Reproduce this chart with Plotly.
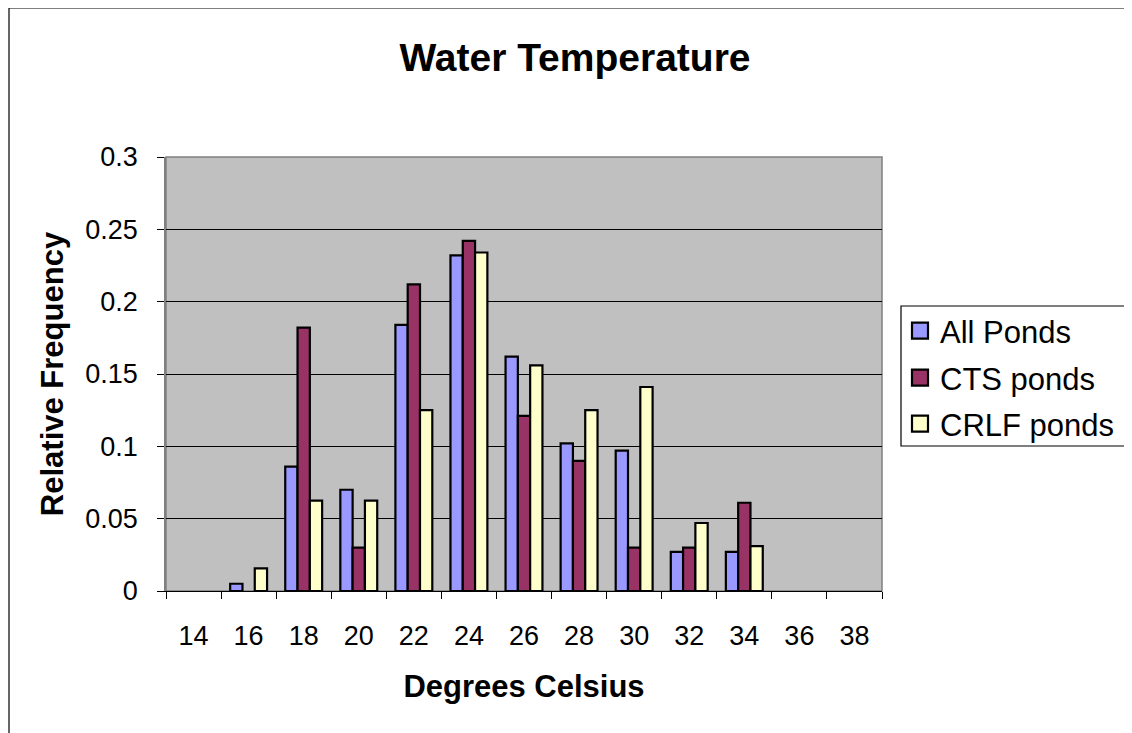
import plotly.graph_objects as go

temps = ["14", "16", "18", "20", "22", "24", "26", "28", "30", "32", "34", "36", "38"]
# None where the reference draws no bar
all_ponds = [None, 0.005, 0.086, 0.070, 0.184, 0.232, 0.162, 0.102, 0.097, 0.027, 0.027, None, None]
cts_ponds = [None, None, 0.182, 0.030, 0.212, 0.242, 0.121, 0.090, 0.030, 0.030, 0.061, None, None]
crlf_ponds = [None, 0.0156, 0.0625, 0.0625, 0.125, 0.234, 0.156, 0.125, 0.141, 0.047, 0.031, None, None]

names = ["All Ponds", "CTS ponds", "CRLF ponds"]
colors = ["#9999FF", "#993366", "#FFFFCC"]
values = [all_ponds, cts_ponds, crlf_ponds]

# page body has an 8px margin, so figure coords = screen coords - 8
OFF = 8
W, H = 1132 - OFF, 733 - OFF
PX0, PX1, PY0, PY1 = 166, 882, 157, 591  # plot area on screen
pw, ph = PX1 - PX0, PY1 - PY0


def px(sx):
    return (sx - PX0) / pw


def py(sy):
    return (PY1 - sy) / ph


fig = go.Figure()
legends = ["legend", "legend2", "legend3"]
for name, vals, col, lg in zip(names, values, colors, legends):
    fig.add_trace(go.Bar(
        x=temps, y=vals, name=name, showlegend=False,
        marker=dict(color=col, line=dict(color="black", width=2.2)),
    ))
    # legend entry with a bigger outlined square
    fig.add_trace(go.Scatter(
        x=[None], y=[None], name=name, legend=lg, mode="markers",
        marker=dict(symbol="square", size=18, color=col,
                    line=dict(color="black", width=2.2)),
    ))

leg_style = dict(xanchor="left", yanchor="middle", bgcolor="rgba(0,0,0,0)",
                 borderwidth=0, font=dict(size=31), itemsizing="trace")
fig.update_layout(
    width=W, height=H,
    margin=dict(l=PX0 - OFF, r=W - (PX1 - OFF), t=PY0 - OFF, b=H - (PY1 - OFF)),
    barmode="group", bargap=0.33, bargroupgap=0,
    plot_bgcolor="#C0C0C0", paper_bgcolor="white",
    font=dict(family="Liberation Sans, Arial", size=27, color="black"),
    title=dict(text="<b>Water Temperature</b>", x=px(575), xref="paper",
               xanchor="center", y=1 - (57 - OFF) / H, yanchor="middle",
               font=dict(size=39)),
    legend=dict(x=px(900), y=py(331), **leg_style),
    legend2=dict(x=px(900), y=py(378), **leg_style),
    legend3=dict(x=px(900), y=py(424), **leg_style),
    showlegend=True,
)
fig.update_xaxes(
    showgrid=False, tickson="boundaries", ticks="outside", ticklen=7,
    tickcolor="black", showline=True, linecolor="black", linewidth=1,
    ticklabelstandoff=21,
    title=dict(text="<b>Degrees Celsius</b>", standoff=24, font=dict(size=31)),
)
fig.update_yaxes(
    range=[0, 0.3], dtick=0.05, showgrid=True, gridcolor="black", gridwidth=1,
    ticks="outside", ticklen=7, tickcolor="black", showline=True,
    linecolor="#808080", linewidth=1.5, zeroline=False, ticklabelstandoff=14,
    title=dict(text="<b>Relative Frequency</b>", standoff=12, font=dict(size=31)),
)
# gray frame on the top/right of the plot area
fig.add_shape(type="rect", xref="paper", yref="paper", x0=0, x1=1, y0=0, y1=1,
              line=dict(color="#808080", width=1.5), layer="below")
# legend box
fig.add_shape(type="rect", xref="paper", yref="paper",
              x0=px(901), x1=px(1130), y0=py(446), y1=py(306),
              line=dict(color="black", width=1.2), fillcolor="white", layer="below")
# outer chart border
fig.add_shape(type="rect", xref="paper", yref="paper",
              x0=px(9), x1=px(1130), y0=py(745), y1=py(8),
              line=dict(color="black", width=1.2))

fig.write_html("out.html")
